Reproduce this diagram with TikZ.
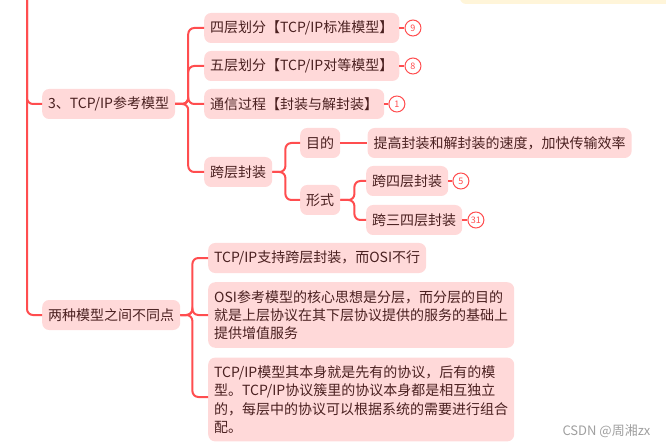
\documentclass[tikz,border=0pt]{standalone}
\usepackage{fontspec}
\setmainfont{Noto Sans CJK SC}
\usepackage{xcolor}
\usepackage{tikz}
\usetikzlibrary{positioning}
\definecolor{linered}{HTML}{FF4D4F}
\definecolor{boxpink}{HTML}{FFD9D9}
\definecolor{txtbrown}{HTML}{4A2020}
\definecolor{tagyellow}{HTML}{FFF5D9}

\begin{document}
\begin{tikzpicture}[
  x=1pt, y=-1pt,
  box/.style={rectangle, rounded corners=7pt, fill=boxpink, text=txtbrown,
              minimum height=30pt, inner xsep=6pt, inner ysep=6pt, anchor=west,
              font=\fontsize{14}{18.3}\selectfont},
  para/.style={box, align=left, inner ysep=8pt},
  badge/.style={circle, draw=linered, line width=1pt, fill=white, text=linered,
                minimum size=16pt, inner sep=0pt, font=\fontsize{9}{9}\selectfont},
  branch/.style={draw=linered, line width=2pt, rounded corners=6pt},
  tick/.style={draw=linered, line width=1.5pt},
  node distance=5pt
]
\useasboundingbox (0,0) rectangle (666,446);
\clip (0,0) rectangle (666,446);

% note box cut off at the top
\fill[tagyellow, rounded corners=6pt] (460,-20) rectangle (680,4);

\coordinate (top) at (27,-5);
\node[box] (tcp) at (42,104) {3、TCP/IP参考模型};
\node[box] (four) at (204,28) {四层划分【TCP/IP标准模型】};
\node[box] (five) at (204,66) {五层划分【TCP/IP对等模型】};
\node[box] (proc) at (204,104) {通信过程【封装与解封装】};
\node[box] (cross) at (204,172) {跨层封装};
\node[box] (goal) at (300,143) {目的};
\node[box, right=27pt of goal] (speed) {提高封装和解封装的速度，加快传输效率};
\node[box] (form) at (300,200) {形式};
\node[box] (cross4) at (366,181) {跨四层封装};
\node[box] (cross34) at (366,220) {跨三四层封装};

\node[badge, right=of four] (b9) {9};
\node[badge, right=of five] (b8) {8};
\node[badge, right=4pt of proc] (b1) {1};
\node[badge, right=4pt of cross4] (b5) {5};
\node[badge, right=of cross34] (b31) {31};

\node[box] (diff) at (42,315) {两种模型之间不同点};
\node[box] (d1) at (208,258) {TCP/IP支持跨层封装，而OSI不行};
\node[para] (d2) at (208,315)
  {OSI参考模型的核心思想是分层，而分层的目的\\就是上层协议在其下层协议提供的服务的基础上\\提供增值服务};
\node[para] (d3) at (208,399.5)
  {TCP/IP模型其本身就是先有的协议，后有的模\\型。TCP/IP协议簇里的协议本身都是相互独立\\的，每层中的协议可以根据系统的需要进行组合\\配。};

\node[anchor=west, text=gray!75, font=\fontsize{13}{13}\selectfont] (mark) at (559,431) {CSDN @周湘zx};

\draw[branch] (top) |- (tcp.west);
\draw[branch] (top) |- (diff.west);
\draw[branch] (tcp.east) -- ++(13,0) |- (four.west);
\draw[branch] (tcp.east) -- ++(13,0) |- (five.west);
\draw[branch] (tcp.east) -- ++(13,0) |- (proc.west);
\draw[branch] (tcp.east) -- ++(13,0) |- (cross.west);
\draw[branch] (cross.east) -- ++(13,0) |- (goal.west);
\draw[branch] (cross.east) -- ++(13,0) |- (form.west);
\draw[branch] (goal) -- (speed);
\draw[branch] (form.east) -- ++(14,0) |- (cross4.west);
\draw[branch] (form.east) -- ++(14,0) |- (cross34.west);
\draw[branch] (diff.east) -- ++(12,0) |- (d1.west);
\draw[branch] (diff.east) -- ++(12,0) |- (d2.west);
\draw[branch] (diff.east) -- ++(12,0) |- ([yshift=2.5pt]d3.west);

\draw[tick] (four) -- (b9);
\draw[tick] (five) -- (b8);
\draw[tick] (proc) -- (b1);
\draw[tick] (cross4) -- (b5);
\draw[tick] (cross34) -- (b31);

\end{tikzpicture}
\end{document}
